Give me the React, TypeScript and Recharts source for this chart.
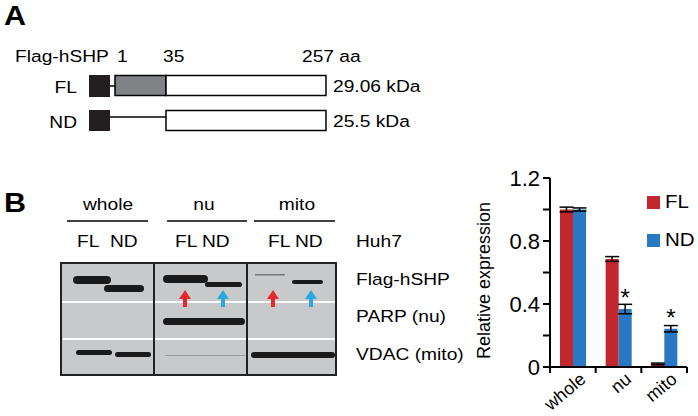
import React from 'react';
import {
  BarChart,
  Bar,
  XAxis,
  YAxis,
  Legend,
  ErrorBar,
  LabelList,
} from 'recharts';

// quantification of Flag-hSHP per fraction (normalised to whole lysate)
const categories = ['whole', 'nu', 'mito'];
const flValues = [1.0, 0.686, 0.02];
const ndValues = [1.0, 0.368, 0.243];
const flErrors = [0.015, 0.015, 0.005];
const ndErrors = [0.01, 0.03, 0.02];
const ndSignificance = ['', '*', '*'];
const yTicks = [0, 0.2, 0.4, 0.6, 0.8, 1.0, 1.2];

const data = categories.map((name, i) => ({
  name,
  FL: flValues[i],
  ND: ndValues[i],
  flErr: flErrors[i],
  ndErr: ndErrors[i],
  sig: ndSignificance[i],
}));

const RED = '#c1272d';
const BLUE = '#2878c3';
const CHART_W = 258;
const CHART_H = 256;
const Y_AXIS_W = 110;
const MARGIN = { top: 18, right: 11, bottom: 0, left: 0 };
const PLOT_W = CHART_W - Y_AXIS_W - MARGIN.left - MARGIN.right;
// the source figure's lettering is a little wider than Arial
const STRETCH = 1.13;

const formatY = (v: number) => {
  const tenth = Math.round(v * 10);
  if (tenth % 4 !== 0) return '';
  return tenth === 0 ? '0' : v.toFixed(1);
};

const CategoryTick = (props: any) => {
  const { x, y, payload, index } = props;
  const half = payload && payload.offset > 0 ? payload.offset : PLOT_W / categories.length / 2;
  const ax = x + 14;
  const ay = y + 14;
  return (
    <g>
      <line x1={x - half} x2={x - half} y1={y} y2={y + 6} stroke='#000' strokeWidth={2} />
      {index === categories.length - 1 && (
        <line x1={x + half} x2={x + half} y1={y} y2={y + 6} stroke='#000' strokeWidth={2} />
      )}
      <text
        x={ax}
        y={ay}
        transform={`rotate(-40, ${ax}, ${ay})`}
        textAnchor='end'
        fontSize={18}
        fill='#000'
      >
        {payload.value}
      </text>
    </g>
  );
};

const YLabel = (props: any) => {
  const vb = props.viewBox || { x: 0, y: MARGIN.top, height: 189 };
  const lx = vb.x + 50;
  const ly = vb.y + vb.height / 2 + 8;
  return (
    <text
      x={lx}
      y={ly}
      transform={`rotate(-90, ${lx}, ${ly})`}
      textAnchor='middle'
      fontSize={18}
      fill='#000'
    >
      Relative expression
    </text>
  );
};

const LegendBox = (props: any) => {
  const items = props.payload || [];
  return (
    <div>
      {items.map((item: any) => (
        <div
          key={item.value}
          style={{ display: 'flex', alignItems: 'center', height: 38, fontSize: 19, color: '#000' }}
        >
          <span style={{ width: 13, height: 13, background: item.color, marginRight: 5, display: 'inline-block' }} />
          <span style={{ display: 'inline-block', transform: 'scaleX(1.08)', transformOrigin: 'left' }}>
            {item.value}
          </span>
        </div>
      ))}
    </div>
  );
};

const ExpressionChart = () => {
  return (
    <BarChart
      width={CHART_W}
      height={CHART_H}
      data={data}
      margin={MARGIN}
      barGap={0}
      barSize={13}
    >
      <XAxis
        dataKey='name'
        height={49}
        tickSize={0}
        tickMargin={0}
        tickLine={false}
        axisLine={{ stroke: '#000', strokeWidth: 2 }}
        tick={<CategoryTick />}
        interval={0}
      />
      <YAxis
        width={Y_AXIS_W}
        domain={[0, 1.2]}
        ticks={yTicks}
        tickFormatter={formatY}
        tickSize={7}
        tickMargin={3}
        axisLine={{ stroke: '#000', strokeWidth: 2 }}
        tickLine={{ stroke: '#000', strokeWidth: 2 }}
        tick={{ fontSize: 22, fill: '#000' }}
        label={{ content: <YLabel /> }}
        interval={0}
      />
      <Legend
        layout='vertical'
        align='center'
        verticalAlign='middle'
        content={<LegendBox />}
        wrapperStyle={{ left: 207, top: 23, width: 60 }}
      />
      <Bar dataKey='FL' fill={RED} isAnimationActive={false}>
        <ErrorBar dataKey='flErr' width={7} stroke='#000' strokeWidth={1.5} />
      </Bar>
      <Bar dataKey='ND' fill={BLUE} isAnimationActive={false}>
        <ErrorBar dataKey='ndErr' width={7} stroke='#000' strokeWidth={1.5} />
        <LabelList dataKey='sig' position='top' offset={3} fontSize={24} fill='#000' />
      </Bar>
    </BarChart>
  );
};

const T = ({ x, y, anchor = 'start', size = 17, bold = false, children }: any) => (
  <text
    transform={`translate(${x} ${y}) scale(${STRETCH} 1)`}
    textAnchor={anchor}
    fontSize={size}
    fontWeight={bold ? 'bold' : 'normal'}
    fill='#000'
  >
    {children}
  </text>
);

const Arrow = ({ x, color }: { x: number; color: string }) => (
  <path
    d={`M${x},290 L${x + 6},299 L${x + 2},299 L${x + 2},307 L${x - 2},307 L${x - 2},299 L${x - 6},299 Z`}
    fill={color}
  />
);

// panel A construct map + panel B western blot
const FigureArt = () => (
  <svg width={698} height={416} style={{ position: 'absolute', left: 0, top: 0 }}>
    <T x={4} y={25} size={27} bold>A</T>
    <T x={15} y={62}>Flag-hSHP</T>
    <T x={117} y={62}>1</T>
    <T x={163} y={62}>35</T>
    <T x={302} y={62}>257 aa</T>

    <T x={77} y={93} anchor='end'>FL</T>
    <rect x={89} y={75} width={21} height={22} fill='#231f20' />
    <line x1={110} x2={115} y1={86} y2={86} stroke='#000' strokeWidth={1.5} />
    <rect x={115} y={75.5} width={51} height={20} fill='#808285' stroke='#000' strokeWidth={1.5} />
    <rect x={166} y={75.5} width={160} height={20} fill='#fff' stroke='#000' strokeWidth={1.5} />
    <T x={333} y={92}>29.06 kDa</T>

    <T x={77} y={128} anchor='end'>ND</T>
    <rect x={89} y={110} width={21} height={21} fill='#231f20' />
    <line x1={110} x2={166} y1={117} y2={117} stroke='#000' strokeWidth={1.5} />
    <rect x={166} y={110.5} width={160} height={20} fill='#fff' stroke='#000' strokeWidth={1.5} />
    <T x={333} y={127}>25.5 kDa</T>

    <T x={4} y={212} size={27} bold>B</T>
    <T x={108} y={210} anchor='middle'>whole</T>
    <T x={204} y={210} anchor='middle'>nu</T>
    <T x={297} y={210} anchor='middle'>mito</T>
    <line x1={67} x2={148} y1={221} y2={221} stroke='#000' strokeWidth={1.5} />
    <line x1={167} x2={247} y1={221} y2={221} stroke='#000' strokeWidth={1.5} />
    <line x1={254} x2={335} y1={221} y2={221} stroke='#000' strokeWidth={1.5} />

    <T x={77} y={247}>FL</T>
    <T x={110} y={247}>ND</T>
    <T x={175} y={247}>FL</T>
    <T x={202} y={247}>ND</T>
    <T x={268} y={247}>FL</T>
    <T x={295} y={247}>ND</T>
    <T x={356} y={247}>Huh7</T>

    <rect x={61} y={263} width={275} height={112} fill='#c8c9cb' stroke='#222' strokeWidth={2} />
    <line x1={62} x2={335} y1={302} y2={302} stroke='#fff' strokeWidth={2} />
    <line x1={63} x2={335} y1={339} y2={339} stroke='#fff' strokeWidth={2} />
    <line x1={154} x2={154} y1={263} y2={375} stroke='#222' strokeWidth={2} />
    <line x1={247} x2={247} y1={263} y2={375} stroke='#222' strokeWidth={2} />

    <g fill='#1a1a1a'>
      <rect x={73} y={276} width={38} height={8} rx={4} />
      <rect x={104} y={285} width={40} height={7} rx={3.5} />
      <rect x={163} y={275} width={45} height={8} rx={4} />
      <rect x={205} y={282} width={37} height={5} rx={2.5} />
      <rect x={255} y={274} width={30} height={1.5} fill='#777' />
      <rect x={292} y={280} width={31} height={4} rx={2} />
      <rect x={163} y={318} width={82} height={7} rx={3.5} />
      <rect x={76} y={350} width={36} height={5} rx={2.5} />
      <rect x={115} y={352} width={36} height={5} rx={2.5} />
      <rect x={165} y={355} width={80} height={1} fill='#9a9a9a' />
      <rect x={251} y={352} width={84} height={6} rx={3} />
    </g>
    <Arrow x={185} color='#e8262b' />
    <Arrow x={223} color='#29a9e0' />
    <Arrow x={273} color='#e8262b' />
    <Arrow x={311} color='#29a9e0' />

    <T x={356} y={285}>Flag-hSHP</T>
    <T x={356} y={322}>PARP (nu)</T>
    <T x={356} y={360}>VDAC (mito)</T>
  </svg>
);

const App = () => {
  return (
    <div
      style={{
        position: 'absolute',
        left: 0,
        top: 0,
        width: 698,
        height: 416,
        background: '#fff',
        fontFamily: '"Liberation Sans", Arial, sans-serif',
      }}
    >
      <FigureArt />
      <div style={{ position: 'absolute', left: 440, top: 160 }}>
        <ExpressionChart />
      </div>
    </div>
  );
};

export default App;
